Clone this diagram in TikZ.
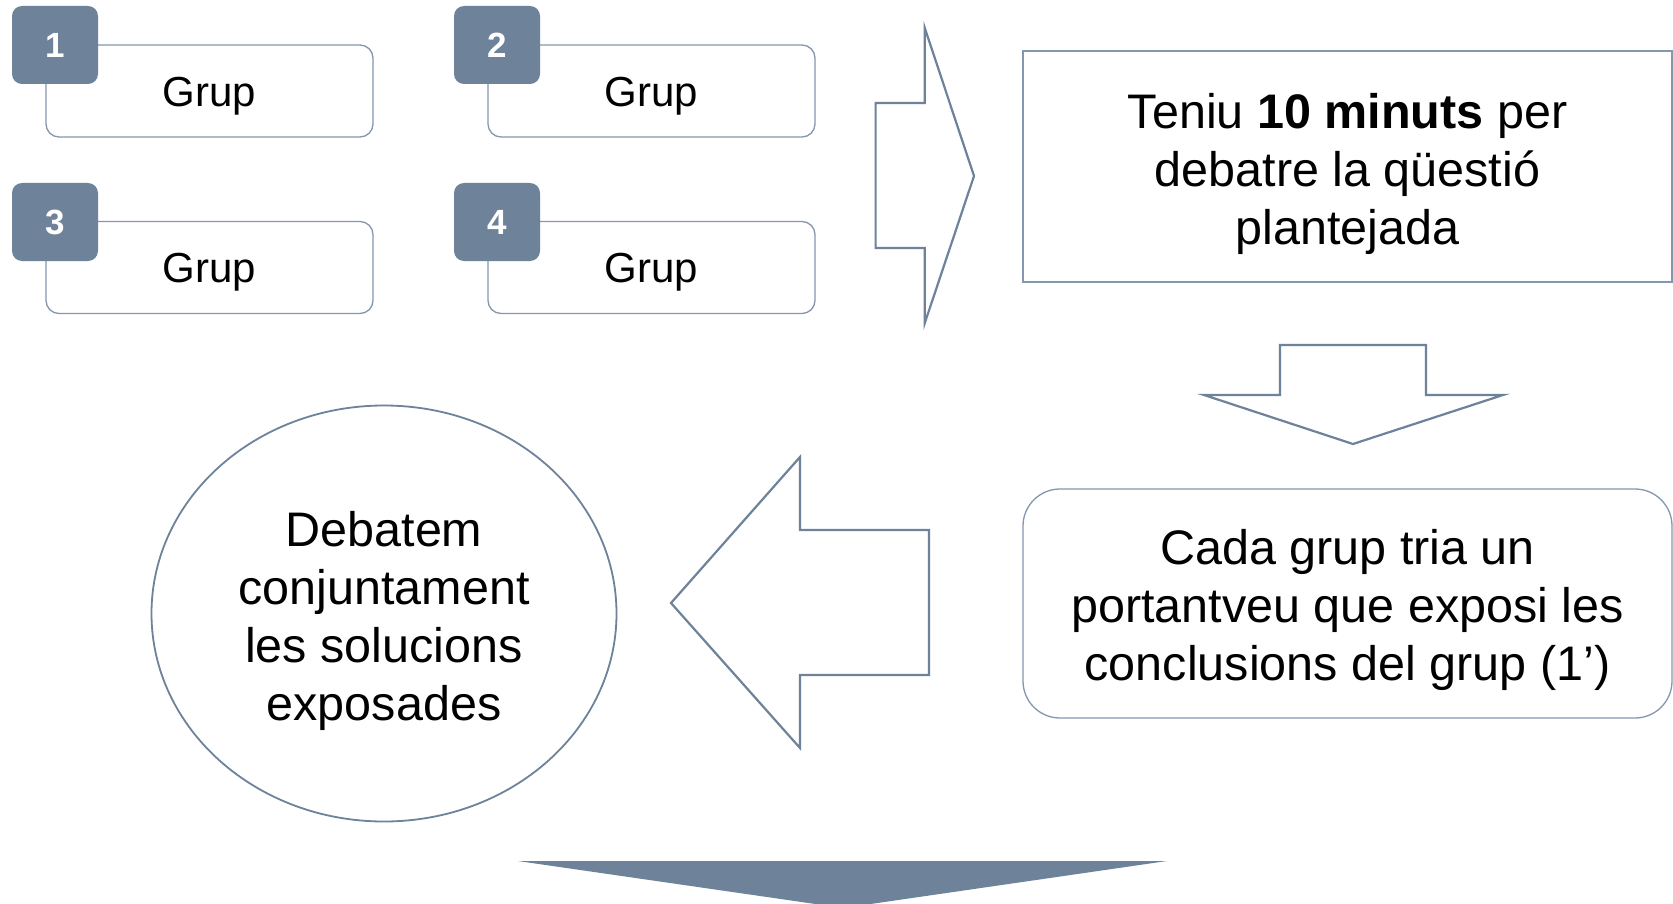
\documentclass[tikz,border=0pt]{standalone}
\usepackage{fontspec}
\setmainfont{Liberation Sans}
\usetikzlibrary{shapes.geometric}
\definecolor{slate}{HTML}{6E829A}
\definecolor{edgec}{HTML}{8497AE}
\begin{document}
\begin{tikzpicture}[x=1pt,y=-1pt,
  grupbox/.style={draw=edgec, line width=1.3pt, rounded corners=13pt, fill=white,
    minimum width=327pt, minimum height=92pt, inner sep=0pt},
  gruptext/.style={font=\fontsize{42}{48}\selectfont, inner sep=0pt},
  badge/.style={fill=slate, rounded corners=10pt, text=white, minimum width=86pt,
    minimum height=78pt, inner sep=0pt, font=\fontsize{35}{40}\selectfont\bfseries},
  blockarrow/.style={draw=slate, line width=2.2pt, fill=white, line join=miter},
  maintext/.style={font=\fontsize{48.5}{58}\selectfont, align=center, text=black, inner sep=0pt},
  panel/.style={draw=edgec, line width=1.3pt, fill=white, minimum width=649pt, inner sep=0pt}
]
\useasboundingbox (0,0) rectangle (1673,904);
\clip (0,0) rectangle (1673,904);
\fill[white] (0,0) rectangle (1673,904);

% group boxes
\node[grupbox] (g1) at (209.5,91) {};
\node[grupbox] (g2) at (651.5,91) {};
\node[grupbox] (g3) at (209.5,267.5) {};
\node[grupbox] (g4) at (651.5,267.5) {};
\node[gruptext] (t1) at (209.5,96) {Grup};
\node[gruptext] (t2) at (651.5,96) {Grup};
\node[gruptext] (t3) at (209.5,272.5) {Grup};
\node[gruptext] (t4) at (651.5,272.5) {Grup};
\node[badge] (b1) at (55,45) {1};
\node[badge] (b2) at (497,45) {2};
\node[badge] (b3) at (55,222) {3};
\node[badge] (b4) at (497,222) {4};

% right block arrow
\draw[blockarrow] (875.6,103) -- (924.8,103) -- (924.8,28) -- (974,176) -- (924.8,323)
  -- (924.8,248) -- (875.6,248) -- cycle;

% top right panel
\node[panel, minimum height=231pt] (teniu) at (1347.5,166.5) {};
\node[maintext] (teniut) at (1347.5,173.5) {Teniu \textbf{10 minuts} per\\debatre la qüestió\\plantejada};

% down block arrow
\draw[blockarrow] (1280,345) -- (1426,345) -- (1426,395) -- (1503,395) -- (1353,444)
  -- (1204,395) -- (1280,395) -- cycle;

% lower right panel
\node[panel, rounded corners=37pt, minimum height=229pt] (cada) at (1347.5,603.5) {};
\node[maintext] (cadat) at (1347.5,609.5) {Cada grup tria un\\portantveu que exposi les\\conclusions del grup (1’)};

% left block arrow
\draw[blockarrow] (929,530) -- (800,530) -- (800,457) -- (671,603) -- (800,748)
  -- (800,675) -- (929,675) -- cycle;

% ellipse
\node[ellipse, draw=slate, line width=1.8pt, minimum width=465pt, minimum height=416pt,
  inner sep=0pt] (deb) at (384,613.5) {};
\node[maintext] (debt) at (384,620.5) {Debatem\\conjuntament\\les solucions\\exposades};

% bottom triangle
\fill[slate] (518,861) -- (1167,861) -- (843,908) -- cycle;
\end{tikzpicture}
\end{document}
